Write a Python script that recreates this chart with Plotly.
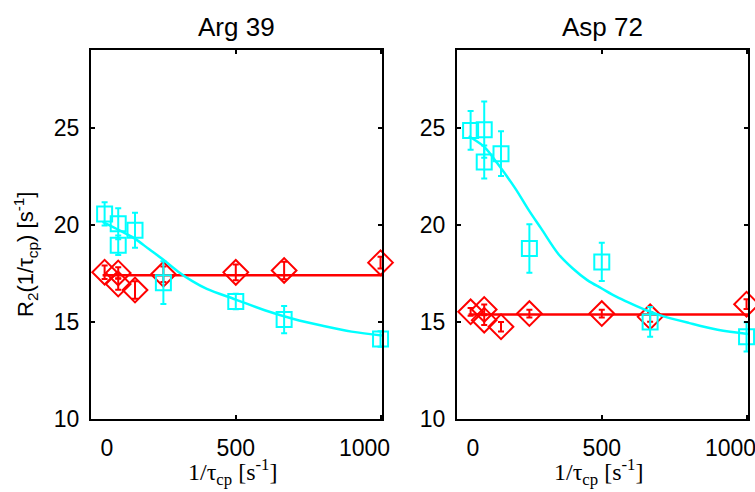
import plotly.graph_objects as go

# ---------------- data ----------------
x_vals = [47, 94, 94, 152, 250, 500, 667, 1000]

# Arg 39
arg_cyan = [20.56, 20.05, 18.95, 19.72, 17.02, 16.05, 15.12, 14.12]
arg_cyan_err = [0.6, 0.8, 0.5, 0.9, 1.1, 0.4, 0.7, 0.4]
arg_red = [17.56, 17.52, 16.95, 16.64, 17.45, 17.55, 17.65, 18.05]
arg_red_err = [0.35, 0.3, 0.3, 0.45, 0.4, 0.4, 0.45, 0.3]
arg_fit_x = [40, 100, 150, 200, 250, 300, 350, 400, 500, 600, 700, 800, 900, 1005]
arg_fit_cyan = [20.15, 19.7, 19.3, 18.75, 18.2, 17.6, 17.1, 16.7, 16.15, 15.6, 15.15, 14.8, 14.5, 14.3]
arg_fit_red = [17.4] * len(arg_fit_x)

# Asp 72
asp_cyan = [24.86, 24.9, 23.23, 23.66, 18.78, 18.09, 15.0, 14.23]
asp_cyan_err = [1.0, 1.45, 0.85, 1.15, 1.25, 0.98, 0.77, 0.75]
asp_red = [15.52, 15.64, 15.09, 14.75, 15.43, 15.43, 15.26, 15.91]
asp_red_err = [0.2, 0.25, 0.25, 0.25, 0.2, 0.2, 0.25, 0.25]
asp_fit_x = [40, 55, 95, 140, 200, 250, 291, 350, 400, 450, 500, 550, 600, 654, 700, 800, 900, 1005]
asp_fit_cyan = [24.55, 24.43, 24.0, 23.15, 21.9, 20.7, 19.8, 18.5, 17.75, 17.15, 16.72, 16.3,
                15.95, 15.6, 15.35, 14.95, 14.6, 14.38]
asp_fit_red = [15.38] * len(asp_fit_x)

titles = ["Arg 39", "Asp 72"]
x_ticks = [0, 500, 1000]
NB = "\u00a0" * 5
x_ticktext = [NB + "0", "500", "1000" + NB]
y_ticks = [10, 15, 20, 25]

CYAN = "#00FFFF"
RED = "#FF0000"
SANS = "Liberation Sans, Arial, sans-serif"
SERIF = "Liberation Serif, Times New Roman, serif"

fig = go.Figure()

panels = [
    ("x", "y", arg_cyan, arg_cyan_err, arg_red, arg_red_err, arg_fit_x, arg_fit_cyan, arg_fit_red),
    ("x2", "y2", asp_cyan, asp_cyan_err, asp_red, asp_red_err, asp_fit_x, asp_fit_cyan, asp_fit_red),
]

for xa, ya, cy, cye, rd, rde, fx, fc, fr in panels:
    fig.add_trace(go.Scatter(
        x=x_vals, y=rd, mode="markers", xaxis=xa, yaxis=ya,
        marker=dict(symbol="diamond-open", size=19, color=RED, line=dict(width=2, color=RED)),
        error_y=dict(type="data", array=rde, color=RED, thickness=2, width=3),
        showlegend=False, cliponaxis=False))
    fig.add_trace(go.Scatter(
        x=fx, y=fr, mode="lines", xaxis=xa, yaxis=ya,
        line=dict(color=RED, width=2.5), showlegend=False))
    fig.add_trace(go.Scatter(
        x=fx, y=fc, mode="lines", xaxis=xa, yaxis=ya, line_shape="spline",
        line=dict(color=CYAN, width=2.5), showlegend=False))
    fig.add_trace(go.Scatter(
        x=x_vals, y=cy, mode="markers", xaxis=xa, yaxis=ya,
        marker=dict(symbol="square-open", size=15, color=CYAN, line=dict(width=2, color=CYAN)),
        error_y=dict(type="data", array=cye, color=CYAN, thickness=2, width=3),
        showlegend=False, cliponaxis=False))

axis_common = dict(
    showgrid=False, zeroline=False, showline=True, linecolor="black", linewidth=2,
    mirror="ticks", ticks="inside", ticklen=4, tickwidth=2, tickcolor="black",
    tickfont=dict(family=SANS, size=23, color="black"), automargin=False,
    ticklabeloverflow="allow",
)

x_doms = [[91 / 755, 382 / 755], [457 / 755, 748 / 755]]
y_dom = [1 - 419 / 492, 1 - 50 / 492]

fig.update_layout(
    width=755, height=492,
    margin=dict(l=0, r=0, t=0, b=0, autoexpand=False),
    paper_bgcolor="white", plot_bgcolor="white",
    xaxis=dict(domain=x_doms[0], range=[0, 1005], tickvals=x_ticks, ticktext=x_ticktext,
               anchor="y", ticklabelstandoff=7, **axis_common),
    yaxis=dict(domain=y_dom, range=[10, 29], tickvals=y_ticks, anchor="x",
               ticklabelstandoff=5, **axis_common),
    xaxis2=dict(domain=x_doms[1], range=[0, 1005], tickvals=x_ticks, ticktext=x_ticktext,
                anchor="y2", ticklabelstandoff=7, **axis_common),
    yaxis2=dict(domain=y_dom, range=[10, 29], tickvals=y_ticks, anchor="x2",
                ticklabelstandoff=5, **axis_common),
)

annotations = []
for i, t in enumerate(titles):
    cx = (x_doms[i][0] + x_doms[i][1]) / 2
    annotations.append(dict(text=t, x=cx, y=1 - 27 / 492, xref="paper", yref="paper",
                            showarrow=False, font=dict(family=SANS, size=26, color="black"),
                            xanchor="center", yanchor="middle"))
    annotations.append(dict(text="1/τ<sub>cp</sub> [s<sup>-1</sup>]", x=cx - 4 / 755,
                            y=1 - 472 / 492, xref="paper", yref="paper", showarrow=False,
                            font=dict(family=SERIF, size=24, color="black"),
                            xanchor="center", yanchor="middle"))
annotations.append(dict(text="R<sub>2</sub>(1/τ<sub>cp</sub>) [s<sup>-1</sup>]", x=25 / 755,
                        y=1 - 255 / 492, xref="paper", yref="paper", showarrow=False,
                        textangle=-90, font=dict(family=SANS, size=22, color="black"),
                        xanchor="center", yanchor="middle"))
fig.update_layout(annotations=annotations)

fig.write_html("out.html", config={"displayModeBar": False},
               post_script="document.body.style.margin='0px';document.body.style.padding='0px';")
